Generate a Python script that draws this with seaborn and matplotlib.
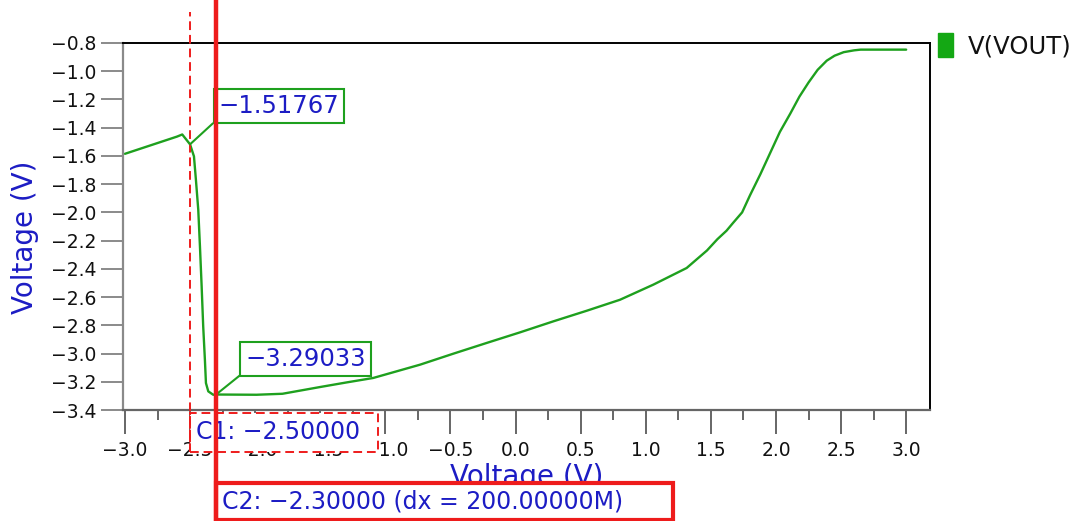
import matplotlib
matplotlib.use("Agg")
import matplotlib.pyplot as plt
import seaborn as sns
import pandas as pd
import numpy as np
from matplotlib.patches import Rectangle, Patch

# ---------------- data ----------------
sweep_v = [-3.0, -2.8, -2.6, -2.56, -2.5, -2.47, -2.455, -2.437, -2.424, -2.411,
           -2.399, -2.386, -2.378, -2.36, -2.322, -2.3, -1.99, -1.79, -1.5, -1.3,
           -1.093, -0.734, -0.478, -0.222, 0.034, 0.29, 0.546, 0.802, 1.058, 1.314,
           1.47, 1.55, 1.62, 1.67, 1.74, 1.80, 1.88, 1.95, 2.03, 2.11,
           2.18, 2.25, 2.32, 2.39, 2.45, 2.52, 2.60, 2.65, 3.0]
vout = [-1.585, -1.524, -1.463, -1.448, -1.518, -1.603, -1.769, -1.981, -2.241, -2.524,
        -2.808, -3.044, -3.209, -3.268, -3.292, -3.29033, -3.292, -3.285, -3.237, -3.205,
        -3.173, -3.079, -3.001, -2.925, -2.850, -2.772, -2.697, -2.619, -2.512, -2.394,
        -2.27, -2.19, -2.13, -2.075, -2.0, -1.88, -1.73, -1.59, -1.43, -1.30,
        -1.18, -1.08, -0.99, -0.925, -0.89, -0.865, -0.852, -0.847, -0.847]
series_name = "V(VOUT)"

c1_x, c1_y = -2.5, -1.51767
c2_x, c2_y = -2.3, -3.29033
dx_text = "200.00000M"

x_major = [-3.0, -2.5, -2.0, -1.5, -1.0, -0.5, 0.0, 0.5, 1.0, 1.5, 2.0, 2.5, 3.0]
x_minor = [-2.75, -2.25, -1.75, -1.25, -0.75, -0.25, 0.25, 0.75, 1.25, 1.75, 2.25, 2.75]
y_major = [-3.4, -3.2, -3.0, -2.8, -2.6, -2.4, -2.2, -2.0, -1.8, -1.6, -1.4, -1.2, -1.0, -0.8]

# ---------------- style ----------------
GREEN = "#1ea01e"
LEG_GREEN = "#14a814"
RED = "#ee1c1c"
BLUE = "#1c1cc4"
GRAY = "#8a8a8a"


def mfmt(v, nd):
    return f"{v:.{nd}f}".replace("-", "\u2212")


sns.set_theme(style="white")
plt.rcParams["font.family"] = ["DejaVu Sans"]

W, H = 1077, 521
fig = plt.figure(figsize=(W / 100, H / 100), dpi=100)
ax_l, ax_r, ax_t, ax_b = 123, 930, 43, 410
ax = fig.add_axes([ax_l / W, 1 - ax_b / H, (ax_r - ax_l) / W, (ax_b - ax_t) / H])

df = pd.DataFrame({"Voltage": sweep_v, series_name: vout})
sns.lineplot(data=df, x="Voltage", y=series_name, ax=ax, color=GREEN, lw=1.7,
             estimator=None, sort=False, legend=False)

ax.set_xlim(-3.015, 3.183)
ax.set_ylim(-3.4, -0.8)

ax.set_xticks(x_major)
ax.set_xticklabels([mfmt(v, 1) for v in x_major])
ax.set_xticks(x_minor, minor=True)
ax.set_yticks(y_major)
ax.set_yticklabels([mfmt(v, 1) for v in y_major])

ax.tick_params(axis="y", which="major", left=True, length=15.5, width=1.4, color=GRAY,
               pad=3.5, labelsize=13.5, labelcolor="#111111", direction="out")
ax.tick_params(axis="x", which="major", bottom=True, length=17, width=1.4, color="#666666",
               pad=5, labelsize=13.5, labelcolor="#111111", direction="out")
ax.tick_params(axis="x", which="minor", bottom=True, length=7, width=1.4, color="#666666",
               direction="out")

for side in ["top", "right"]:
    ax.spines[side].set_color("black")
    ax.spines[side].set_linewidth(1.4)
ax.spines["left"].set_color(GRAY)
ax.spines["left"].set_linewidth(1.6)
ax.spines["bottom"].set_color("#666666")
ax.spines["bottom"].set_linewidth(1.6)
ax.grid(False)

ah = ax_b - ax_t          # axes height in px
aw = ax_r - ax_l


def yfrac(py):
    return (ax_b - py) / ah


# axis labels
ax.set_ylabel("Voltage (V)", fontsize=20, color=BLUE, va="center")
ax.yaxis.set_label_coords((25 - ax_l) / aw, yfrac(237))
ax.set_xlabel("Voltage (V)", fontsize=20, color=BLUE, va="baseline")
ax.xaxis.set_label_coords(0.5, yfrac(485))

trans = ax.get_xaxis_transform()

# cursor C1 (dashed)
ax.plot([c1_x, c1_x], [yfrac(452), yfrac(12)], transform=trans, color=RED, lw=1.4,
        dashes=(4.5, 2.5), clip_on=False, zorder=6)
c1_right = -3.0 + (378 - 125) / 130.2
ax.add_patch(Rectangle((c1_x, yfrac(452)), c1_right - c1_x, yfrac(413) - yfrac(452),
                       transform=trans, facecolor="white", edgecolor=RED, lw=1.4,
                       linestyle=(0, (4.5, 2.5)), clip_on=False, zorder=5))
ax.text(c1_x + 6 / 130.2, yfrac(432), "C1: " + mfmt(c1_x, 5), transform=trans,
        fontsize=17, color=BLUE, ha="left", va="center", zorder=7, clip_on=False)

# cursor C2 (solid)
c2_right = -3.0 + (673 - 125) / 130.2
ax.add_patch(Rectangle((c2_x, yfrac(520)), c2_right - c2_x, yfrac(483) - yfrac(520),
                       transform=trans, facecolor="white", edgecolor=RED, lw=3,
                       clip_on=False, zorder=8))
ax.plot([c2_x, c2_x], [yfrac(530), yfrac(-10)], transform=trans, color=RED, lw=3.2,
        clip_on=False, zorder=9)
ax.text(c2_x + 6 / 130.2, yfrac(502),
        "C2: " + mfmt(c2_x, 5) + " (dx = " + dx_text + ")", transform=trans,
        fontsize=17, color=BLUE, ha="left", va="center", zorder=10, clip_on=False)

# value annotations
box_kw = dict(boxstyle="square,pad=0.2", fc="white", ec=GREEN, lw=1.5)
arr_kw = dict(arrowstyle="-", color=GREEN, lw=1.5, shrinkA=0, shrinkB=0, relpos=(0, 0))
ax.annotate(mfmt(c1_y, 5), xy=(c1_x, c1_y), xytext=(-1.818, -1.248), textcoords="data",
            fontsize=17.5, color=BLUE, ha="center", va="center", bbox=box_kw,
            arrowprops=arr_kw, zorder=7, annotation_clip=False)
ax.annotate(mfmt(c2_y, 5), xy=(c2_x, c2_y), xytext=(-1.614, -3.040), textcoords="data",
            fontsize=17.5, color=BLUE, ha="center", va="center", bbox=box_kw,
            arrowprops=arr_kw, zorder=7, annotation_clip=False)

# legend
ax.legend(handles=[Patch(facecolor=LEG_GREEN, edgecolor=LEG_GREEN, label=series_name)],
          loc="upper left", bbox_to_anchor=((938 - ax_l) / aw, yfrac(33)),
          frameon=False, fontsize=17.5, handlelength=0.62, handleheight=1.15,
          handletextpad=0.6, borderaxespad=0, borderpad=0, labelcolor="#111111")

fig.savefig("out.png", dpi=100, facecolor="white")
